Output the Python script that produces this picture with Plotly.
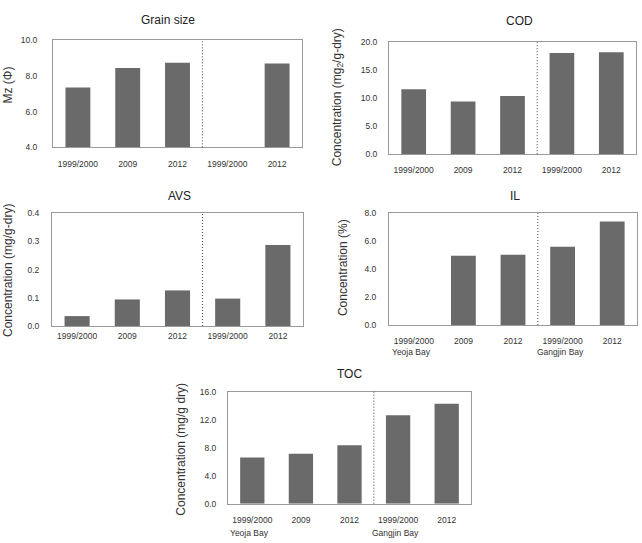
import plotly.graph_objects as go

W, H = 642, 543

tick_text = ["1999/2000", "2009", "2012", "1999/2000", "2012"]
positions = [0, 1, 2, 3, 4]

grain = [7.35, 8.45, 8.75, None, 8.7]
cod = [11.6, 9.4, 10.4, 18.1, 18.2]
avs = [0.035, 0.094, 0.126, 0.097, 0.287]
il = [None, 4.95, 5.02, 5.6, 7.4]
toc = [6.6, 7.15, 8.35, 12.65, 14.3]

titles = ["Grain size", "COD", "AVS", "IL", "TOC"]
ylabels = ["Mz (Φ)", "Concentration (mg<sub>2</sub>/g-dry)", "Concentration (mg/g-dry)",
           "Concentration (%)", "Concentration (mg/g dry)"]
yranges = [[4, 10], [0, 20], [0, 0.4], [0, 8], [0, 16]]
ydticks = [2, 5, 0.1, 2, 4]
bay_labels = ["Yeoja Bay", "Gangjin Bay"]

# pixel boxes: x0, x1, y0(top), y1(bottom)
boxes = [(53, 302, 36, 145), (389, 636, 38, 152), (52, 303, 212, 327),
         (389, 637, 212, 326), (228, 471, 394, 508)]
title_pos = [(168, 15), (519, 16), (180, 195), (515, 195), (349, 376)]
ylabel_pos = [(8, 82), (338, 94), (8, 271), (343, 268), (181, 452)]
xstand = [8, 8, 2, 8, 8]
ystand = [13, 9, 10, 10, 9]

BAR = "#6a6a6a"
FRAME = "#9a9a9a"
TXT = "#333333"

fig = go.Figure()
series = [grain, cod, avs, il, toc]
layout = dict(width=W, height=H, margin=dict(l=0, r=0, t=0, b=0),
              paper_bgcolor="white", plot_bgcolor="white", showlegend=False,
              bargap=0.5, font=dict(family="Liberation Sans, Arial", color=TXT))
annotations = []
shapes = []
for i, vals in enumerate(series):
    n = "" if i == 0 else str(i + 1)
    fig.add_trace(go.Bar(x=positions, y=vals, marker=dict(color=BAR, line=dict(width=0)),
                         xaxis="x" + n, yaxis="y" + n))
    x0, x1, y0, y1 = boxes[i]
    layout["xaxis" + n] = dict(domain=[x0 / W, x1 / W], anchor="y" + n, range=[-0.5, 4.5],
                               tickmode="array", tickvals=positions, ticktext=tick_text,
                               showline=True, mirror=True, linecolor=FRAME, linewidth=1,
                               showgrid=False, zeroline=False, ticks="",
                               ticklabelstandoff=xstand[i],
                               tickfont=dict(size=8.5, color=TXT))
    lo, hi = yranges[i]
    layout["yaxis" + n] = dict(domain=[1 - y1 / H, 1 - y0 / H], anchor="x" + n, range=[lo, hi],
                               tick0=lo, dtick=ydticks[i], tickformat=".1f",
                               showline=True, mirror=True, linecolor=FRAME, linewidth=1,
                               showgrid=False, zeroline=False, ticks="",
                               ticklabelstandoff=ystand[i],
                               tickfont=dict(size=8.5, color=TXT))
    shapes.append(dict(type="line", xref="x" + n, yref="y" + n + " domain", x0=2.5, x1=2.5,
                       y0=0, y1=1, line=dict(color="#444444", width=1, dash="1px,2px")))
    tx, ty = title_pos[i]
    annotations.append(dict(text=titles[i], x=tx / W, y=1 - ty / H, xref="paper", yref="paper",
                            showarrow=False, xanchor="center", yanchor="middle",
                            font=dict(size=12, color="#222222")))
    lx, ly = ylabel_pos[i]
    annotations.append(dict(text=ylabels[i], x=lx / W, y=1 - ly / H, xref="paper", yref="paper",
                            showarrow=False, xanchor="center", yanchor="middle", textangle=-90,
                            font=dict(size=12, color=TXT)))

# bay labels under IL and TOC
for n, ypix in [("4", 354), ("5", 538)]:
    for k, lab in zip([0, 3], bay_labels):
        annotations.append(dict(text=lab, x=k - 0.05, y=1 - ypix / H, xref="x" + n, yref="paper",
                                showarrow=False, xanchor="center", yanchor="middle",
                                font=dict(size=8.5, color=TXT)))

layout["annotations"] = annotations
layout["shapes"] = shapes
fig.update_layout(**layout)
fig.write_html("out.html")
